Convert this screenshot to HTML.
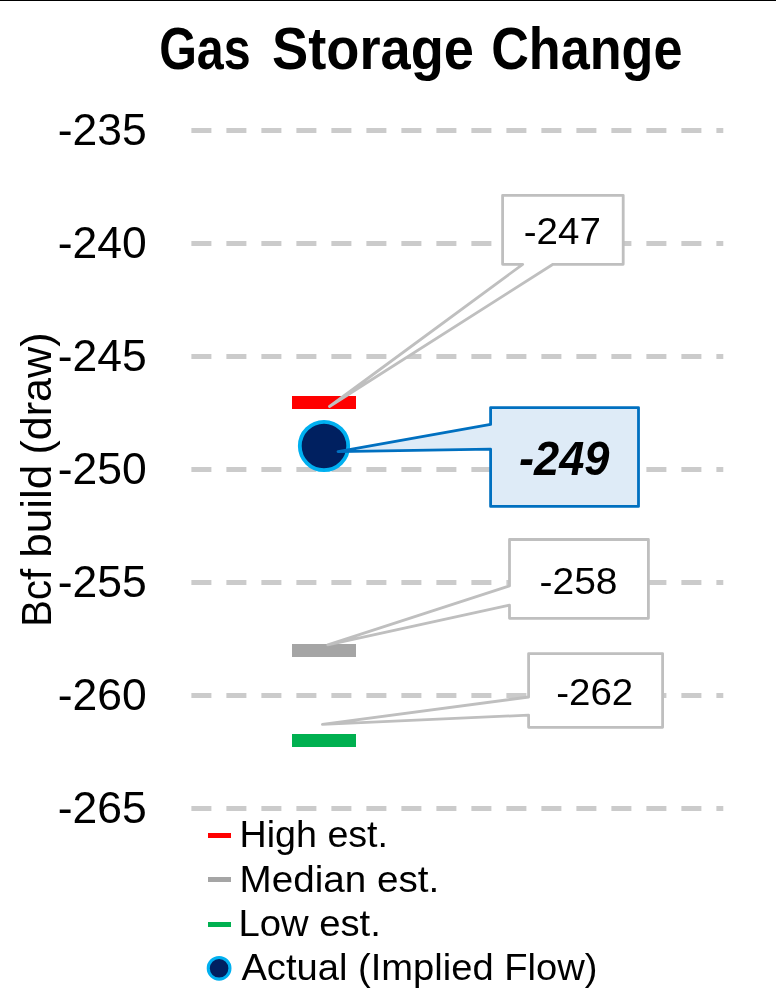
<!DOCTYPE html>
<html>
<head>
<meta charset="utf-8">
<style>
html,body{margin:0;padding:0;background:#fff;}
body{width:776px;height:991px;overflow:hidden;}
svg{display:block;will-change:transform;}
text{font-family:"Liberation Sans",sans-serif;fill:#000;}
</style>
</head>
<body>
<svg width="776" height="991" viewBox="0 0 776 991">
<rect x="0" y="0" width="776" height="991" fill="#fff"/>
<rect x="0" y="0" width="776" height="1" fill="#000"/>

<!-- title -->
<g font-size="59.6" font-weight="bold">
<text x="159.2" y="68.9" textLength="91.5" lengthAdjust="spacingAndGlyphs">Gas</text>
<text x="272" y="68.9" textLength="202" lengthAdjust="spacingAndGlyphs">Storage</text>
<text x="491.2" y="68.9" textLength="191.2" lengthAdjust="spacingAndGlyphs">Change</text>
</g>

<!-- gridlines -->
<g stroke="#cbcbcb" stroke-width="5" stroke-dasharray="20 15" fill="none">
<line x1="191.4" y1="130.5" x2="723.3" y2="130.5"/>
<line x1="191.4" y1="243.5" x2="723.3" y2="243.5"/>
<line x1="191.4" y1="356.5" x2="723.3" y2="356.5"/>
<line x1="191.4" y1="469.5" x2="723.3" y2="469.5"/>
<line x1="191.4" y1="582.5" x2="723.3" y2="582.5"/>
<line x1="191.4" y1="695.5" x2="723.3" y2="695.5"/>
<line x1="191.4" y1="808.5" x2="723.3" y2="808.5"/>
</g>

<!-- y axis labels -->
<g font-size="44.3" text-anchor="end">
<text x="146.7" y="145" textLength="89" lengthAdjust="spacingAndGlyphs">-235</text>
<text x="146.7" y="258" textLength="89" lengthAdjust="spacingAndGlyphs">-240</text>
<text x="146.7" y="371" textLength="89" lengthAdjust="spacingAndGlyphs">-245</text>
<text x="146.7" y="484" textLength="89" lengthAdjust="spacingAndGlyphs">-250</text>
<text x="146.7" y="597" textLength="89" lengthAdjust="spacingAndGlyphs">-255</text>
<text x="146.7" y="710" textLength="89" lengthAdjust="spacingAndGlyphs">-260</text>
<text x="146.7" y="823" textLength="89" lengthAdjust="spacingAndGlyphs">-265</text>
</g>

<!-- axis title -->
<g font-size="42.4">
<text transform="translate(50.6,626.8) rotate(-90)" x="0" y="0" textLength="57.8" lengthAdjust="spacingAndGlyphs">Bcf</text>
<text transform="translate(50.6,557.8) rotate(-90)" x="0" y="0" textLength="93.1" lengthAdjust="spacingAndGlyphs">build</text>
<text transform="translate(50.6,454.6) rotate(-90)" x="0" y="0" textLength="122.1" lengthAdjust="spacingAndGlyphs">(draw)</text>
</g>

<!-- markers -->
<rect x="292" y="396" width="64" height="13" fill="#ff0000"/>
<rect x="292" y="644" width="64" height="13" fill="#a5a5a5"/>
<rect x="292" y="734" width="64" height="13" fill="#00b050"/>

<!-- gray callouts -->
<g stroke="#bfbfbf" stroke-width="2.8" fill="#fff" stroke-linejoin="round">
<path d="M502.6,195.3 H623.2 V264.3 H553 L329.5,406.5 L522.7,264.3 H502.6 Z"/>
<path d="M509.5,539.5 H648.4 V618.3 H509.5 V605.2 L327.8,644.9 L509.5,585.9 Z"/>
<path d="M528.6,653.6 H662.6 V727.3 H528.6 V715.1 L322.4,724.4 L528.6,697 Z"/>
</g>

<!-- actual circle -->
<circle cx="324" cy="446" r="24.2" fill="#002060" stroke="#00b0f0" stroke-width="3.8"/>

<!-- blue callout -->
<path d="M490.6,407.6 H638.5 V506.4 H490.6 V449.2 L338,451.6 L490.6,424.4 Z" fill="#deebf7" stroke="#0070c0" stroke-width="2.8" stroke-linejoin="round"/>

<!-- callout texts -->
<g font-size="37.4">
<text x="523.8" y="244" textLength="77" lengthAdjust="spacingAndGlyphs">-247</text>
<text x="539.5" y="594" textLength="78" lengthAdjust="spacingAndGlyphs">-258</text>
<text x="556.2" y="705" textLength="77" lengthAdjust="spacingAndGlyphs">-262</text>
</g>
<text x="519" y="475.2" font-size="48" font-weight="bold" font-style="italic" textLength="90.5" lengthAdjust="spacingAndGlyphs">-249</text>

<!-- legend -->
<rect x="208" y="833" width="23" height="5" fill="#ff0000"/>
<rect x="208" y="877" width="23" height="5" fill="#a5a5a5"/>
<rect x="208" y="922" width="23" height="5" fill="#00b050"/>
<circle cx="219.1" cy="968.3" r="10.85" fill="#002060" stroke="#00b0f0" stroke-width="3.1"/>
<g font-size="37.6">
<text x="239.6" y="846.7" textLength="148.4" lengthAdjust="spacingAndGlyphs">High est.</text>
<text x="239.6" y="891.6" textLength="199.6" lengthAdjust="spacingAndGlyphs">Median est.</text>
<text x="238.4" y="935.7" textLength="142.4" lengthAdjust="spacingAndGlyphs">Low est.</text>
<text x="241.4" y="979.5" textLength="356" lengthAdjust="spacingAndGlyphs">Actual (Implied Flow)</text>
</g>
</svg>
</body>
</html>
